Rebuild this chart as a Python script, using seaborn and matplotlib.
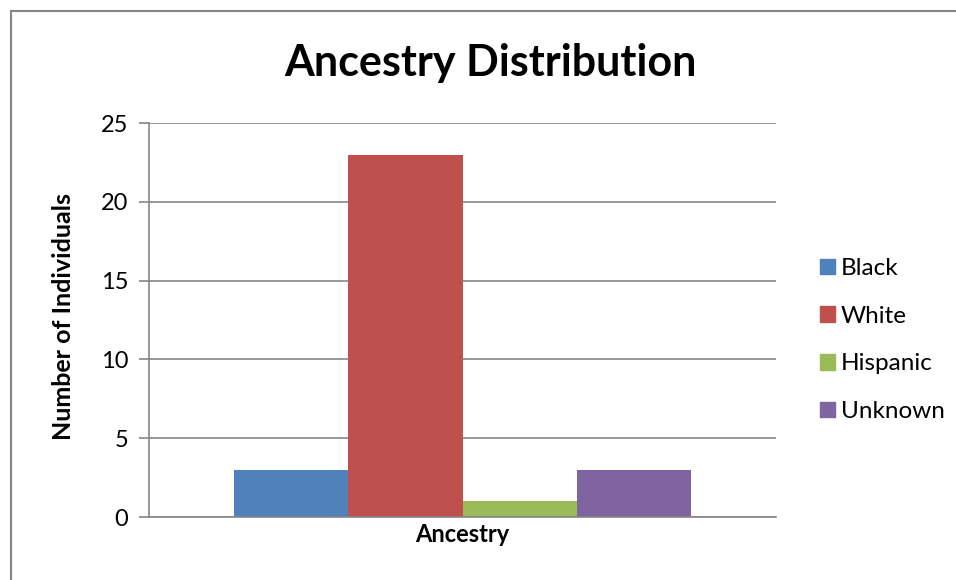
import pandas as pd
import matplotlib.pyplot as plt
import seaborn as sns
from matplotlib.patches import Rectangle

# ------------------------------------------
# Data
# ------------------------------------------

groups = ["Black", "White", "Hispanic", "Unknown"]
counts = [3, 23, 1, 3]
colors = ["#4F81BD", "#C0504D", "#9BBB59", "#8064A2"]

df = pd.DataFrame({"Ancestry": [""] * len(groups), "Group": groups, "Count": counts})

# ------------------------------------------
# Plot
# ------------------------------------------

sns.set_style("white")
plt.rcParams["font.family"] = ["Lato", "DejaVu Sans"]
plt.rcParams["text.color"] = "black"
plt.rcParams["axes.labelcolor"] = "black"
plt.rcParams["ytick.color"] = "black"

fig = plt.figure(figsize=(9.56, 5.8), dpi=100)
ax = fig.add_axes([149 / 956, 63 / 580, 627 / 956, 394 / 580])

sns.barplot(
    data=df,
    x="Ancestry",
    y="Count",
    hue="Group",
    palette=colors,
    width=0.73,
    gap=0,
    saturation=1,
    linewidth=0,
    ax=ax,
)

ax.set_ylim(0, 25)
ax.set_yticks([0, 5, 10, 15, 20, 25])
ax.set_xticks([])
ax.grid(axis="y", color="#868686", linewidth=1.2)
ax.set_axisbelow(True)

for s in ["top", "right"]:
    ax.spines[s].set_visible(False)
for s in ["left", "bottom"]:
    ax.spines[s].set_color("#868686")
    ax.spines[s].set_linewidth(1.2)

ax.tick_params(axis="y", length=7, width=1.2, color="#868686", labelcolor="black",
               labelsize=17, pad=8, left=True)
ax.set_ylabel("Number of Individuals", fontsize=18, fontweight="bold")
ax.yaxis.set_label_coords(-74 / 627, 0.51)
ax.set_xlabel("Ancestry", fontsize=17, fontweight="bold", labelpad=4)

fig.suptitle("Ancestry Distribution", x=490 / 956, y=1 - 63 / 580, va="center",
             fontsize=31, fontweight="bold", color="black")

ax.get_legend().remove()
handles = [Rectangle((0, 0), 1, 1, color=c) for c in colors]
fig.legend(
    handles, groups,
    loc="center left",
    bbox_to_anchor=(820 / 956, 1 - 340 / 580),
    frameon=False,
    borderpad=0,
    borderaxespad=0,
    fontsize=17.5,
    handlelength=0.6,
    handleheight=0.6,
    handletextpad=0.25,
    labelspacing=1.1,
)

# chart border
fig.patches.append(Rectangle((11 / 956, -0.1), 1.2, 1 - 11 / 580 + 0.1,
                             transform=fig.transFigure, fill=False,
                             edgecolor="#868686", linewidth=1.5))

plt.savefig("out.png", dpi=100)
